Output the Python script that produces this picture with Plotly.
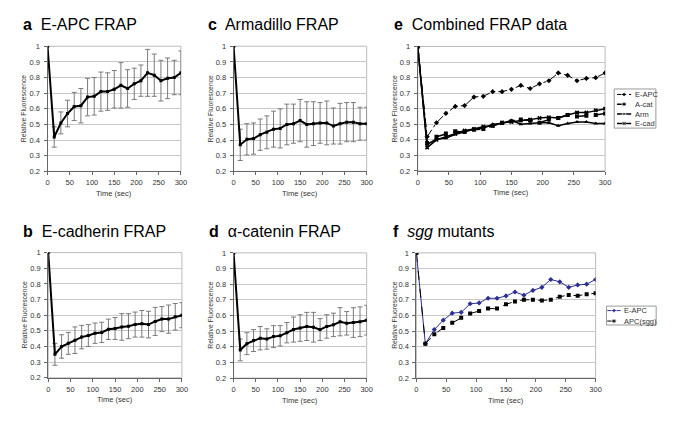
import plotly.graph_objects as go

time_sec = [0, 15, 30, 45, 60, 75, 90, 105, 120, 135, 150, 165, 180, 195, 210, 225, 240, 255, 270, 285, 300]

eapc = [1.0, 0.42, 0.51, 0.57, 0.615, 0.62, 0.675, 0.68, 0.71, 0.71, 0.725, 0.75, 0.73, 0.76, 0.78, 0.83, 0.815, 0.78, 0.795, 0.80, 0.83]
eapc_err = [0, 0.065, 0.07, 0.085, 0.09, 0.11, 0.12, 0.12, 0.125, 0.12, 0.12, 0.145, 0.12, 0.10, 0.10, 0.15, 0.135, 0.13, 0.13, 0.11, 0.14]

arm = [1.0, 0.37, 0.405, 0.41, 0.435, 0.45, 0.47, 0.475, 0.50, 0.505, 0.525, 0.50, 0.505, 0.51, 0.51, 0.49, 0.505, 0.515, 0.515, 0.505, 0.505]
arm_err = [0, 0.10, 0.10, 0.10, 0.10, 0.105, 0.115, 0.125, 0.13, 0.125, 0.135, 0.145, 0.14, 0.13, 0.14, 0.115, 0.13, 0.125, 0.125, 0.105, 0.105]

ecad = [1.0, 0.35, 0.40, 0.42, 0.44, 0.46, 0.47, 0.485, 0.49, 0.51, 0.515, 0.525, 0.53, 0.54, 0.545, 0.54, 0.56, 0.575, 0.575, 0.59, 0.60]
ecad_err = [0, 0.07, 0.075, 0.07, 0.085, 0.075, 0.07, 0.065, 0.065, 0.065, 0.07, 0.085, 0.08, 0.08, 0.085, 0.085, 0.09, 0.08, 0.09, 0.085, 0.08]

acat = [1.0, 0.38, 0.42, 0.44, 0.455, 0.45, 0.465, 0.47, 0.49, 0.51, 0.52, 0.53, 0.525, 0.51, 0.53, 0.54, 0.56, 0.55, 0.555, 0.56, 0.57]
acat_err = [0, 0.07, 0.07, 0.07, 0.075, 0.065, 0.07, 0.065, 0.065, 0.08, 0.085, 0.09, 0.095, 0.07, 0.075, 0.075, 0.09, 0.075, 0.095, 0.095, 0.095]

apc_sgg = [1.0, 0.42, 0.48, 0.52, 0.554, 0.585, 0.613, 0.628, 0.644, 0.644, 0.671, 0.69, 0.70, 0.70, 0.696, 0.70, 0.72, 0.731, 0.726, 0.736, 0.742]

y_ticks = [0.2, 0.3, 0.4, 0.5, 0.6, 0.7, 0.8, 0.9, 1.0]
y_tick_text = ["0.2", "0.3", "0.4", "0.5", "0.6", "0.7", "0.8", "0.9", "1"]
x_ticks = [0, 50, 100, 150, 200, 250, 300]

# page body has an 8px margin all round: keep the page exactly window-sized
OFF = 8
W, H = 685 - 2 * OFF, 426 - 2 * OFF
FONT = "Liberation Sans, Arial, sans-serif"
SMALL = 7.5
TXT = "#333"

def px(x):
    return (x - OFF) / W

def py(y):
    return 1 - (y - OFF) / H

# panel geometry in window pixels: (x0, x1, ytop, ybottom)
panels = {
    "a": (46, 181, 43, 171),
    "c": (234.3, 369, 43, 171),
    "e": (420.7, 610.3, 43.3, 170.5),
    "b": (46.7, 182, 254, 382),
    "d": (234.3, 369, 254.3, 382.3),
    "f": (419.3, 600.7, 254.3, 382.3),
}
order = ["a", "c", "e", "b", "d", "f"]

fig = go.Figure()
layout = dict(
    width=W, height=H, margin=dict(l=0, r=0, t=0, b=0),
    paper_bgcolor="white", plot_bgcolor="white",
    font=dict(family=FONT, size=SMALL, color=TXT),
    showlegend=False,
)
shapes = []
annotations = []

for i, key in enumerate(order):
    x0, x1, yt, yb = panels[key]
    n = "" if i == 0 else str(i + 1)
    layout["xaxis" + n] = dict(
        domain=[px(x0), px(x1)], range=[0, 300], anchor="y" + n,
        tickvals=x_ticks, showgrid=False, zeroline=False,
        showline=True, linecolor="#666", linewidth=1,
        ticks="outside", ticklen=3, tickcolor="#666", ticklabelstandoff=1,
        tickfont=dict(size=SMALL, color=TXT),
    )
    layout["yaxis" + n] = dict(
        domain=[py(yb), py(yt)], range=[0.2, 1.0], anchor="x" + n,
        tickvals=y_ticks, ticktext=y_tick_text,
        showgrid=True, gridcolor="#c8c8c8", gridwidth=1, zeroline=False,
        showline=True, linecolor="#666", linewidth=1,
        ticks="outside", ticklen=3, tickcolor="#666", ticklabelstandoff=2,
        tickfont=dict(size=SMALL, color=TXT),
    )
    shapes.append(dict(type="rect", xref="x" + n + " domain", yref="y" + n + " domain",
                       x0=0, x1=1, y0=0, y1=1, line=dict(color="#bbbbbb", width=1),
                       layer="below"))
    annotations.append(dict(text="Time (sec)", x=px((x0 + x1) / 2), y=py(yb + 22.5),
                            xref="paper", yref="paper", showarrow=False,
                            font=dict(size=SMALL, color=TXT),
                            xanchor="center", yanchor="middle"))

ylab_x = {"a": 22.5, "c": 211, "e": 397.5, "b": 22.5, "d": 210.7, "f": 397}
for key in order:
    x0, x1, yt, yb = panels[key]
    annotations.append(dict(text="Relative Fluorescence", x=px(ylab_x[key]),
                            y=py((yt + yb) / 2), xref="paper", yref="paper",
                            showarrow=False, textangle=-90, font=dict(size=6.8, color=TXT),
                            xanchor="center", yanchor="middle"))

titles = [
    ("<b>a</b>  E-APC FRAP", 19, 21),
    ("<b>c</b>  Armadillo FRAP", 206, 21),
    ("<b>e</b>  Combined FRAP data", 395, 21),
    ("<b>b</b>  E-cadherin FRAP", 19, 232),
    ("<b>d</b>  α-catenin FRAP", 207, 232),
    ("<b>f</b>  <i>sgg</i> mutants", 394, 232),
]
for txt, tx, ty in titles:
    annotations.append(dict(text=txt, x=px(tx), y=py(ty), xref="paper", yref="paper",
                            showarrow=False, xanchor="left", yanchor="middle",
                            font=dict(size=16, color="#000", family=FONT)))

def single(y, err, xa, ya):
    fig.add_trace(go.Scatter(
        x=time_sec, y=y, mode="lines+markers", xaxis=xa, yaxis=ya,
        line=dict(color="black", width=2),
        marker=dict(symbol="square", size=3, color="black"),
        error_y=dict(type="data", array=err, visible=True, color="#7a7a7a",
                     thickness=1, width=2.5),
    ))

single(eapc, eapc_err, "x", "y")
single(arm, arm_err, "x2", "y2")
single(ecad, ecad_err, "x4", "y4")
single(acat, acat_err, "x5", "y5")

# series styles for the combined panel (e) and sgg panel (f)
series_e = [
    ("E-APC", eapc, dict(color="black", width=1, dash="dashdot"), "diamond", "black"),
    ("A-cat", acat, dict(color="black", width=1.5, dash="dash"), "square", "black"),
    ("Arm", arm, dict(color="black", width=1.5), "triangle-up", "black"),
    ("E-cad", ecad, dict(color="black", width=1.5), "x", "black"),
]
series_f = [
    ("E-APC", eapc, dict(color="#2b2f94", width=1), "diamond", "#2b2f94"),
    ("APC(sgg)", apc_sgg, dict(color="black", width=1, dash="dash"), "square", "black"),
]
for name, ys, ln, sym, col in series_e:
    fig.add_trace(go.Scatter(x=time_sec, y=ys, name=name, mode="lines+markers",
                             xaxis="x3", yaxis="y3", line=ln,
                             marker=dict(symbol=sym, size=4, color=col)))
for name, ys, ln, sym, col in series_f:
    fig.add_trace(go.Scatter(x=time_sec, y=ys, name=name, mode="lines+markers",
                             xaxis="x6", yaxis="y6", line=ln,
                             marker=dict(symbol=sym, size=4, color=col)))

# hand-made compact legends (Excel style), drawn on hidden pixel-unit axes
legend_boxes = [
    (series_e, 619.5, 661.7, 86.7, 126.7, 622.3, 636.7, 638.5, [92.3, 102.2, 112.3, 122.0], "7"),
    (series_f, 611.7, 662.0, 308.7, 328.0, 612.5, 626.0, 627.8, [313.3, 324.0], "8"),
]
for series, bx0, bx1, by0, by1, l0, l1, tx, rows, ax in legend_boxes:
    layout["xaxis" + ax] = dict(domain=[px(bx0), px(bx1)], range=[bx0, bx1],
                                visible=False, anchor="y" + ax, fixedrange=True)
    layout["yaxis" + ax] = dict(domain=[py(by1), py(by0)], range=[by1, by0],
                                visible=False, anchor="x" + ax, fixedrange=True)
    shapes.append(dict(type="rect", xref="paper", yref="paper",
                       x0=px(bx0), x1=px(bx1), y0=py(by1), y1=py(by0),
                       line=dict(color="#999", width=1), fillcolor="white", layer="below"))
    for (name, ys, ln, sym, col), ry in zip(series, rows):
        mid = (l0 + l1) / 2
        fig.add_trace(go.Scatter(x=[l0, mid, l1], y=[ry, ry, ry], mode="lines+markers",
                                 xaxis="x" + ax, yaxis="y" + ax, line=ln,
                                 marker=dict(symbol=sym, size=[0, 4, 0], color=col),
                                 hoverinfo="skip"))
        annotations.append(dict(text=name, x=px(tx), y=py(ry), xref="paper", yref="paper",
                                showarrow=False, xanchor="left", yanchor="middle",
                                font=dict(size=SMALL, color=TXT)))

layout["shapes"] = shapes
layout["annotations"] = annotations
fig.update_layout(**layout)

fig.write_html("out.html")
